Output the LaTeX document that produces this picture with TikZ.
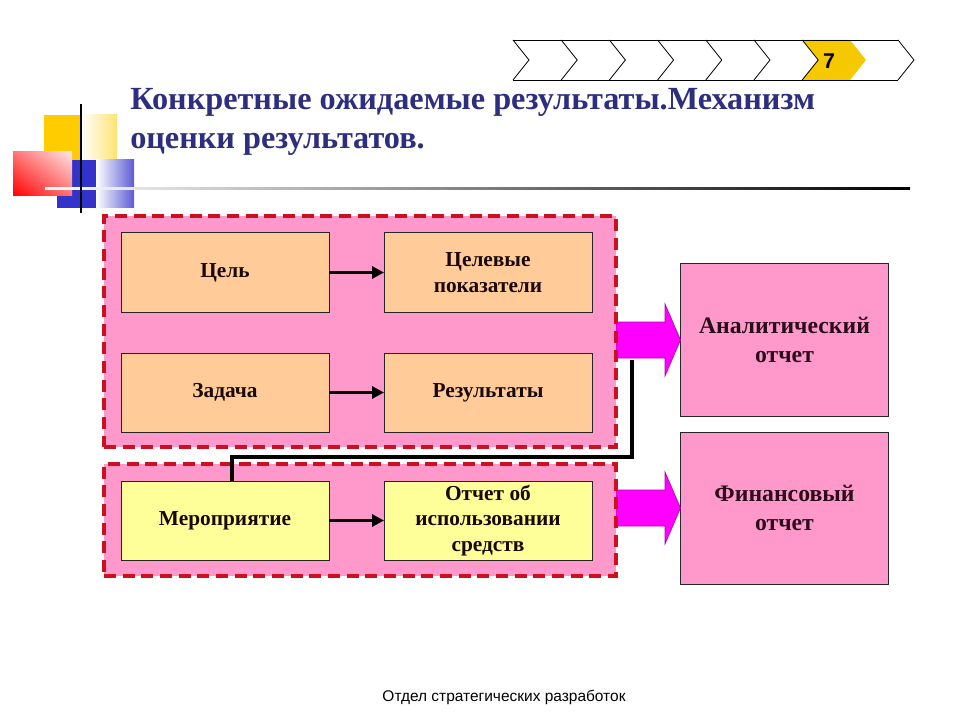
\documentclass[tikz,border=0pt]{standalone}
\usepackage{fontspec}
\setmainfont{Liberation Serif}
\newfontfamily\arialf{Liberation Sans}
\usetikzlibrary{arrows.meta,shadings}
\definecolor{pinkf}{HTML}{FF99CC}
\definecolor{orangef}{HTML}{FFCC99}
\definecolor{yellowf}{HTML}{FFFF99}
\definecolor{dashred}{HTML}{CC1020}
\definecolor{navyt}{HTML}{2E2E80}
\definecolor{boxtext}{HTML}{1A0808}
\definecolor{bigtext}{HTML}{2B0D1A}
\definecolor{magf}{HTML}{FF00FF}
\definecolor{magd}{HTML}{B000B0}
\definecolor{chevy}{HTML}{F5C800}
\definecolor{decoy}{HTML}{FFCC00}
\definecolor{decob}{HTML}{3333CC}
\tikzset{
  grp/.style={draw=dashred, line width=2.5pt, dash pattern=on 9pt off 5pt, fill=pinkf, minimum width=384pt, inner sep=0pt, outer sep=0pt},
  obox/.style={draw=black!85, line width=0.75pt, fill=orangef, minimum width=156pt, minimum height=59.25pt, inner sep=0pt, outer sep=0pt, align=center, text=boxtext, font=\bfseries\fontsize{16}{19}\selectfont},
  ybox/.style={obox, fill=yellowf},
  bigbox/.style={draw=black!85, line width=0.75pt, fill=pinkf, minimum width=156pt, minimum height=114pt, inner sep=0pt, outer sep=0pt, align=center, text=bigtext, font=\bfseries\fontsize{17.8}{22}\selectfont},
  arr/.style={line width=2.5pt, -{Triangle[length=9pt, width=9pt]}},
  conn/.style={line width=2.5pt},
  blockarr/.style={fill=magf, draw=magd, line width=0.5pt},
  chev/.style={draw=black, line width=0.6pt},
}
\begin{document}
\begin{tikzpicture}[x=0.75pt, y=-0.75pt]
\useasboundingbox (0,0) rectangle (960,720);
\fill[white] (0,0) rectangle (960,720);

% decoration top-left
\fill[decoy] (44,115) rectangle (81,160);
\shade[left color=white, right color=decoy!55!white] (81,115) rectangle (117,160);
\fill[decob] (57,160) rectangle (96,208);
\shade[left color=white, right color=decob!80!white] (96,160) rectangle (134,208);
\shade[upper left=red!55!white, upper right=red!10!white, lower left=red, lower right=red!55!white] (13,152) rectangle (72,196);
\shade[left color=white, right color=black] (45,187.5) rectangle (910,190);
\draw[line width=1.8pt] (81,104) -- (81,213);

% chevron band
\fill[chevy] (802,40) -- (850,40) -- (866,60) -- (850,80) -- (802,80) -- (818,60) -- cycle;
\draw[chev] (513,40) -- (898,40);
\draw[chev] (513,80) -- (898,80);
\foreach \k in {0,...,6} {
  \draw[chev] ({513+48.2*\k},40) -- ++(16,20) -- ++(-16,20);
}
\draw[chev] (898,40) -- (914,60) -- (898,80);
\node[font=\arialf\bfseries\fontsize{16}{18}\selectfont] (seven) at (829,61) {7};

% title
\node[anchor=base west, inner sep=0pt, text=navyt, font=\bfseries\fontsize{24.2}{28}\selectfont] (t1) at (130,110) {Конкретные ожидаемые результаты.Механизм};
\node[anchor=base west, inner sep=0pt, text=navyt, font=\bfseries\fontsize{24.2}{28}\selectfont] (t2) at (130,149) {оценки результатов.};

% block arrows (under groups)
\node[bigbox] (anal) at (784.5,340) {Аналитический\\отчет};
\node[bigbox] (fin) at (784.5,508) {Финансовый\\отчет};
\draw[blockarr] (616,322) -- (665,322) -- (665,304) -- (anal.west) -- (665,376) -- (665,358) -- (616,358) -- cycle;
\draw[blockarr] (616,490) -- (665,490) -- (665,472) -- (fin.west) -- (665,544) -- (665,526) -- (616,526) -- cycle;

% groups
\node[grp, minimum height=173.25pt] (g1) at (360,331.5) {};
\node[grp, minimum height=84pt] (g2) at (360,520) {};

% boxes
\node[obox] (cel) at (225,272.5) {Цель};
\node[obox] (celpok) at (488,272.5) {Целевые\\показатели};
\node[obox] (zad) at (225,392.5) {Задача};
\node[obox] (res) at (488,392.5) {Результаты};
\node[ybox] (mer) at (225,520.5) {Мероприятие};
\node[ybox] (otch) at (488,520.5) {Отчет об\\использовании\\средств};

\draw[arr] (cel) -- (celpok);
\draw[arr] (zad) -- (res);
\draw[arr] (mer) -- (otch);

% connector
\coordinate (k1) at (632,457);
\coordinate (k2) at (632,360);
\draw[conn] ([xshift=5.25pt]mer.north) |- (k1) -- (k2);

% footer
\node[font=\arialf\fontsize{11.6}{14}\selectfont] (foot) at (504,697) {Отдел стратегических разработок};
\end{tikzpicture}
\end{document}
